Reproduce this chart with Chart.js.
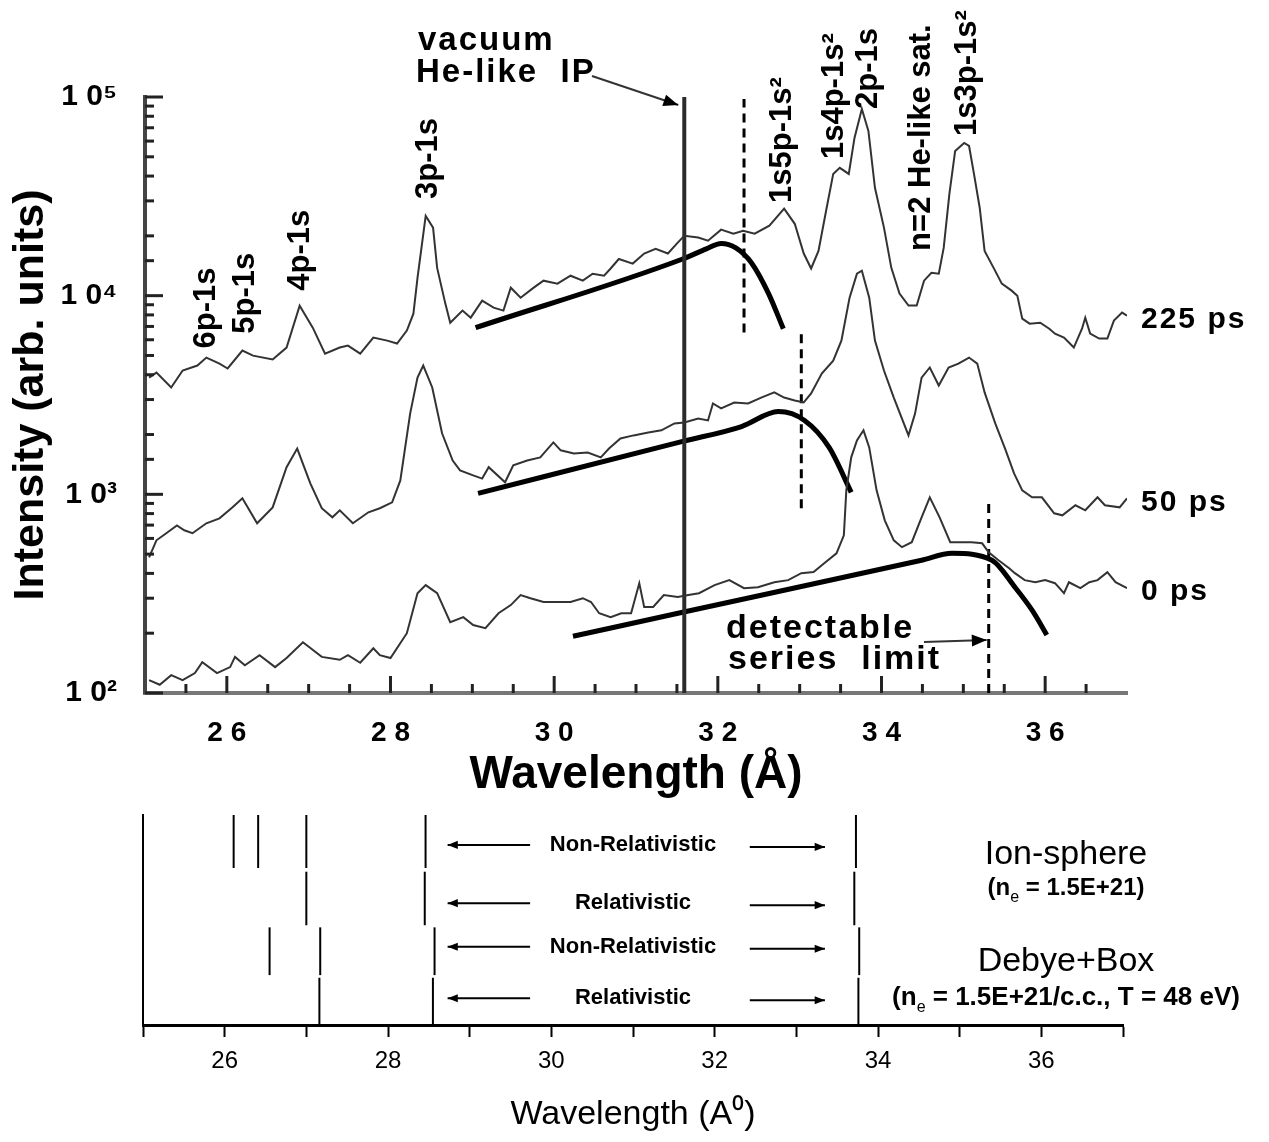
<!DOCTYPE html>
<html>
<head>
<meta charset="utf-8">
<script src="https://cdn.jsdelivr.net/npm/chart.js@4.4.0/dist/chart.umd.min.js"></script>
<style>
  html, body { margin: 0; padding: 0; background: #fff; }
  #wrap { position: relative; width: 1269px; height: 1142px; }
  #top { position: absolute; left: 0; top: 0; }
  #bot { position: absolute; left: 0; top: 800px; }
</style>
</head>
<body>
<div id="wrap">
  <canvas id="top" width="1269" height="800"></canvas>
  <canvas id="bot" width="1269" height="342"></canvas>
</div>
<script>
// ─── DATA: measured spectra (wavelength in Å, intensity arb. units) ───
const wl225 = [25.05,25.14,25.32,25.46,25.64,25.75,25.91,26.01,26.19,26.32,26.56,26.73,26.89,27.05,27.20,27.38,27.48,27.63,27.79,27.96,28.08,28.20,28.28,28.33,28.43,28.52,28.57,28.67,28.73,28.88,28.98,29.12,29.26,29.38,29.47,29.59,29.75,29.87,30.04,30.20,30.35,30.47,30.61,30.69,30.79,30.96,31.10,31.24,31.39,31.51,31.59,31.76,31.88,32.04,32.19,32.31,32.45,32.63,32.81,32.94,33.05,33.14,33.23,33.33,33.41,33.49,33.60,33.67,33.76,33.84,33.92,34.03,34.12,34.22,34.33,34.43,34.52,34.61,34.70,34.76,34.83,34.90,35.01,35.07,35.13,35.20,35.26,35.37,35.47,35.59,35.66,35.72,35.81,35.94,36.05,36.12,36.23,36.35,36.45,36.49,36.55,36.66,36.76,36.84,36.94,37.0];
const int225 = [3870,4100,3450,4200,4450,4880,4550,4300,5290,4990,4770,5480,8910,6900,5110,5480,5610,5110,6150,5940,5740,6670,8120,12300,25200,22000,13800,9120,7310,8410,7750,9440,8710,8410,10970,9770,10970,11900,11500,12600,11900,12900,12600,13700,15300,14500,16300,17200,16300,18500,20000,19600,18900,21500,20500,21200,20500,22500,27400,23000,16300,13700,16800,27700,41000,44000,41000,62200,87100,67500,34900,22000,13800,10240,8910,8910,11900,13050,12900,17400,32600,53500,58700,56700,41000,27700,16800,13800,11500,10600,10000,7660,7230,7310,6820,6440,6150,5480,6820,7750,6440,6080,6080,7490,8220,7930];

const wl50 = [25.05,25.14,25.26,25.39,25.48,25.58,25.75,25.91,26.07,26.19,26.37,26.56,26.73,26.86,27.02,27.16,27.29,27.38,27.54,27.73,27.87,28.02,28.12,28.24,28.33,28.40,28.51,28.63,28.76,28.85,29.01,29.12,29.20,29.40,29.50,29.67,29.83,29.99,30.08,30.24,30.41,30.57,30.67,30.81,30.97,31.15,31.31,31.47,31.59,31.76,31.88,31.94,32.04,32.20,32.37,32.53,32.69,32.81,32.94,33.05,33.14,33.27,33.41,33.51,33.61,33.70,33.76,33.85,33.92,34.03,34.15,34.33,34.41,34.49,34.59,34.70,34.82,34.94,35.07,35.17,35.26,35.39,35.51,35.62,35.72,35.84,35.96,36.11,36.21,36.37,36.49,36.64,36.73,36.91,37.0];
const int50 = [482,587,637,698,659,637,715,757,860,955,715,860,1370,1700,1136,851,766,831,715,812,851,912,1175,2550,3870,4450,3450,2030,1480,1320,1245,1200,1370,1150,1400,1480,1535,1825,1665,1607,1625,1535,1700,1910,1980,2050,2100,2275,2300,2410,2355,2865,2705,2900,2865,3070,3260,3070,2970,2900,3220,4055,4710,5940,9770,12900,13350,9770,5940,4200,3070,1980,2550,3870,4350,3530,4350,4550,4880,4550,3260,2275,1700,1275,1047,966,966,803,784,881,831,966,881,860,955];

const wl0 = [25.05,25.18,25.32,25.46,25.61,25.70,25.88,26.04,26.10,26.22,26.40,26.59,26.73,26.93,27.16,27.38,27.48,27.63,27.79,27.87,28.00,28.20,28.33,28.43,28.57,28.73,28.89,29.01,29.16,29.32,29.47,29.59,29.71,29.87,30.04,30.20,30.35,30.45,30.55,30.69,30.82,30.94,31.04,31.10,31.21,31.34,31.51,31.64,31.77,31.96,32.14,32.32,32.49,32.69,32.86,33.02,33.17,33.30,33.45,33.54,33.57,33.63,33.70,33.78,33.85,33.94,34.04,34.15,34.25,34.37,34.49,34.59,34.71,34.84,34.98,35.10,35.23,35.31,35.43,35.56,35.63,35.75,35.88,36.00,36.12,36.23,36.29,36.43,36.54,36.64,36.76,36.86,37.0];
const int0 = [116,110,123,116,126,143,126,135,152,138,155,135,150,180,152,147,155,142,168,155,150,200,318,349,318,227,241,220,212,252,277,311,300,287,287,287,300,287,252,241,252,252,357,271,271,311,304,311,318,349,370,337,341,361,370,401,406,450,505,622,1047,1535,1867,2100,1722,1047,740,587,542,574,766,966,766,574,574,574,567,511,466,425,401,370,361,370,357,318,361,337,361,370,406,361,337];

// continuum fits (thick black curves)
const fitWl225 = [29.04,31.57,31.86,32.04,32.22,32.41,32.62,32.80];
const fitInt225 = [6900,15300,17200,18300,17400,14650,10240,6820];
const fitWl50 = [29.07,31.57,32.29,32.74,33.06,33.36,33.63];
const fitInt50 = [1012,1846,2195,2610,2355,1722,1023];
const fitWl0 = [30.23,31.57,34.49,34.86,35.35,35.63,35.84,36.02];
const fitInt0 = [193,255,466,505,466,341,261,196];

// vacuum He-like IP and detectable series limits
const ipWl = 31.59;
const ipSpan = [100, 100000];
const limitWl = [32.32, 33.02, 35.31];
const limitLow = [6520, 851, 100];
const limitHigh = [97700, 6820, 912];

// line identifications
const peakNames = ['6p-1s','5p-1s','4p-1s','3p-1s','1s5p-1s²','1s4p-1s²','2p-1s','n=2 He-like sat.','1s3p-1s²'];
const peakWl = [25.75,26.23,26.90,28.46,32.79,33.42,33.84,34.49,35.05];
const peakBase = [5420,6440,10600,30700,29300,48700,87100,16800,63700];
const specNames = ['225 ps','50 ps','0 ps'];

// lower panel: calculated line positions (Å)
const ionNonRel = [26.11, 26.41, 27.0, 28.46, 33.73];
const ionRel = [27.0, 28.45, 33.71];
const debyeNonRel = [26.55, 27.17, 28.57, 33.77];
const debyeRel = [27.16, 28.55, 33.76];
const rowNames = ['Non-Relativistic','Relativistic','Non-Relativistic','Relativistic'];
const rowTop = [4.0, 2.92, 1.86, 0.90];
const rowBottom = [2.99, 1.90, 0.95, 0];
const rowText = [3.43, 2.32, 1.49, 0.51];

const FONT = '"Liberation Sans", Arial, Helvetica, sans-serif';
const SUP = { 2: '²', 3: '³', 4: '⁴', 5: '⁵' };

// ─── HELPERS ─────────────────────────────────────────
const pts = (xs, ys) => xs.map((x, i) => ({ x, y: ys[i] }));

function spectrum(xs, ys) {
  return { data: pts(xs, ys), borderColor: '#333', borderWidth: 2, pointRadius: 0, tension: 0 };
}
function fitCurve(xs, ys) {
  return { data: pts(xs, ys), borderColor: '#000', borderWidth: 5, pointRadius: 0, cubicInterpolationMode: 'monotone' };
}
function vline(x, lo, hi, extra) {
  return Object.assign({ data: [{ x, y: lo }, { x, y: hi }], borderColor: '#000', borderWidth: 3, pointRadius: 0 }, extra);
}

function arrow(ctx, x1, y1, x2, y2, head) {
  ctx.beginPath(); ctx.moveTo(x1, y1); ctx.lineTo(x2, y2); ctx.stroke();
  const a = Math.atan2(y2 - y1, x2 - x1);
  ctx.beginPath();
  ctx.moveTo(x2, y2);
  ctx.lineTo(x2 - head * Math.cos(a - 0.38), y2 - head * Math.sin(a - 0.38));
  ctx.lineTo(x2 - head * Math.cos(a + 0.38), y2 - head * Math.sin(a + 0.38));
  ctx.closePath(); ctx.fill();
}

function vText(ctx, text, x, yBottom) {
  ctx.save();
  ctx.translate(x, yBottom);
  ctx.rotate(-Math.PI / 2);
  ctx.textAlign = 'left';
  ctx.textBaseline = 'middle';
  ctx.fillText(text, 0, 0);
  ctx.restore();
}

// text with a subscript "e" after "n"
function subText(ctx, parts, cx, y, font, subFont) {
  let w = 0;
  parts.forEach(([t, sub]) => { ctx.font = sub ? subFont : font; w += ctx.measureText(t).width; });
  let x = cx - w / 2;
  ctx.textAlign = 'left';
  parts.forEach(([t, sub]) => {
    ctx.font = sub ? subFont : font;
    ctx.fillText(t, x, sub ? y + 10 : y);
    x += ctx.measureText(t).width;
  });
}

// ─── PLUGINS ─────────────────────────────────────────
const inwardTicks = {
  id: 'inwardTicks',
  afterDatasetsDraw(chart) {
    const { ctx, chartArea: a, scales: { x, y } } = chart;
    ctx.save();
    ctx.strokeStyle = '#222';
    ctx.lineWidth = 3;
    x.ticks.forEach(t => {
      if (t.value <= 25 || t.value >= 37) return;
      const px = x.getPixelForValue(t.value);
      const len = (Number.isInteger(t.value) && t.value % 2 === 0) ? 17 : 9;
      ctx.beginPath(); ctx.moveTo(px, a.bottom); ctx.lineTo(px, a.bottom - len); ctx.stroke();
    });
    y.ticks.forEach(t => {
      const e = Math.log10(t.value);
      const py = y.getPixelForValue(t.value);
      const len = Math.abs(e - Math.round(e)) < 1e-6 ? 18 : 9;
      ctx.beginPath(); ctx.moveTo(a.left, py); ctx.lineTo(a.left + len, py); ctx.stroke();
    });
    ctx.restore();
  }
};

const topNotes = {
  id: 'topNotes',
  afterDraw(chart) {
    const { ctx, chartArea: a, scales: { x, y } } = chart;
    ctx.save();
    ctx.fillStyle = '#000';
    ctx.strokeStyle = '#333';
    ctx.font = `bold 31px ${FONT}`;
    peakNames.forEach((t, i) => vText(ctx, t, x.getPixelForValue(peakWl[i]), y.getPixelForValue(peakBase[i])));

    if ('letterSpacing' in ctx) ctx.letterSpacing = '2px';
    ctx.textAlign = 'left';
    ctx.textBaseline = 'middle';
    ctx.font = `bold 30px ${FONT}`;
    const lasts = [int225[int225.length - 1], int50[int50.length - 1], int0[int0.length - 1]];
    specNames.forEach((t, i) => ctx.fillText(t, a.right + 14, y.getPixelForValue(lasts[i]) + 4));

    ctx.textBaseline = 'alphabetic';
    ctx.font = `bold 33px ${FONT}`;
    ctx.fillText('vacuum', 418, 50);
    ctx.fillText('He-like  IP', 416, 82);
    ctx.lineWidth = 2;
    ctx.fillStyle = '#000';
    arrow(ctx, 592, 76, x.getPixelForValue(ipWl) - 6, a.top + 8, 16);

    ctx.font = `bold 34px ${FONT}`;
    ctx.fillText('detectable', 726, 638);
    ctx.fillText('series  limit', 728, 669);
    arrow(ctx, 924, 642, x.getPixelForValue(limitWl[2]) - 2, 640, 16);
    ctx.restore();
  }
};

const bottomNotes = {
  id: 'bottomNotes',
  afterDraw(chart) {
    const { ctx, scales: { x, y } } = chart;
    ctx.save();
    ctx.fillStyle = '#000';
    ctx.strokeStyle = '#000';
    ctx.lineWidth = 2;
    ctx.textAlign = 'center';
    ctx.textBaseline = 'middle';
    rowNames.forEach((name, i) => {
      const py = y.getPixelForValue(rowText[i]);
      ctx.font = `bold 22px ${FONT}`;
      ctx.textAlign = 'center';
      ctx.fillText(name, x.getPixelForValue(31.0), py);
      arrow(ctx, x.getPixelForValue(29.74), py, x.getPixelForValue(28.73), py, 11);
      arrow(ctx, x.getPixelForValue(32.43), py + 2, x.getPixelForValue(33.35), py + 2, 11);
    });
    const mid = 1066;
    ctx.textAlign = 'center';
    ctx.font = `34px ${FONT}`;
    ctx.fillText('Ion-sphere', mid, 55);
    subText(ctx, [['(n', 0], ['e', 1], [' = 1.5E+21)', 0]], mid, 88, `bold 24px ${FONT}`, `16px ${FONT}`);
    ctx.textAlign = 'center';
    ctx.font = `34px ${FONT}`;
    ctx.fillText('Debye+Box', mid, 162);
    subText(ctx, [['(n', 0], ['e', 1], [' = 1.5E+21/c.c., T = 48 eV)', 0]], mid, 198, `bold 26px ${FONT}`, `16px ${FONT}`);
    ctx.restore();
  }
};

// ─── TOP CHART: spectra ──────────────────────────────
const topChart = new Chart(document.getElementById('top'), {
  type: 'line',
  data: {
    datasets: [
      spectrum(wl225, int225),
      spectrum(wl50, int50),
      spectrum(wl0, int0),
      vline(ipWl, ipSpan[0], ipSpan[1], { borderColor: '#2b2b2b', borderWidth: 4 }),
      ...limitWl.map((w, i) => vline(w, limitLow[i], limitHigh[i], { borderDash: [9, 6] })),
      fitCurve(fitWl225, fitInt225),
      fitCurve(fitWl50, fitInt50),
      fitCurve(fitWl0, fitInt0)
    ]
  },
  options: {
    responsive: false,
    animation: false,
    devicePixelRatio: 1,
    layout: { padding: { top: 97, right: 142, left: 0, bottom: 0 } },
    plugins: { legend: { display: false }, tooltip: { enabled: false } },
    scales: {
      x: {
        type: 'linear', min: 25, max: 37,
        afterFit: s => { s.height = 107; },
        grid: { display: false },
        border: { display: true, color: '#777', width: 4 },
        ticks: {
          stepSize: 0.5, autoSkip: false, maxRotation: 0, padding: 15, color: '#000',
          font: { family: FONT, size: 28, weight: 'bold' },
          callback: v => (Number.isInteger(v) && v % 2 === 0 && v > 25 && v < 37) ? String(v).split('').join(' ') : ''
        },
        title: {
          display: true, text: 'Wavelength (Å)', color: '#000',
          font: { family: FONT, size: 46, weight: 'bold', lineHeight: 1 },
          padding: { top: 0, bottom: 2 }
        }
      },
      y: {
        type: 'logarithmic', min: 100, max: 100000,
        afterFit: s => { s.width = 145; },
        grid: { display: false },
        border: { display: true, color: '#444', width: 4 },
        ticks: {
          autoSkip: false, padding: 20, color: '#000',
          font: { family: FONT, size: 30, weight: 'bold' },
          callback: v => {
            const e = Math.log10(v);
            return Math.abs(e - Math.round(e)) < 1e-6 ? '1 0' + SUP[Math.round(e)] : '';
          }
        },
        title: {
          display: true, text: 'Intensity (arb. units)', color: '#000',
          font: { family: FONT, size: 43, weight: 'bold', lineHeight: 1 },
          padding: { top: 10, bottom: 0 }
        }
      }
    }
  },
  plugins: [inwardTicks, topNotes]
});

// ─── BOTTOM CHART: calculated line positions ─────────
const bottomSets = [];
[ionNonRel, ionRel, debyeNonRel, debyeRel].forEach((row, i) => {
  row.forEach(w => bottomSets.push(vline(w, rowBottom[i], rowTop[i], { borderWidth: 2, clip: false })));
});

const bottomChart = new Chart(document.getElementById('bot'), {
  type: 'line',
  data: { datasets: bottomSets },
  options: {
    responsive: false,
    animation: false,
    devicePixelRatio: 1,
    layout: { padding: { top: 15, right: 146, left: 0, bottom: 0 } },
    plugins: { legend: { display: false }, tooltip: { enabled: false } },
    scales: {
      x: {
        type: 'linear', min: 25, max: 37,
        afterFit: s => { s.height = 117; },
        grid: { display: true, drawOnChartArea: false, drawTicks: true, tickLength: 12, tickWidth: 2, tickColor: '#000' },
        border: { display: true, color: '#000', width: 3 },
        ticks: {
          stepSize: 1, autoSkip: false, maxRotation: 0, padding: 10, color: '#000',
          font: { family: FONT, size: 24 },
          callback: v => (v % 2 === 0 && v > 25 && v < 37) ? String(v) : ''
        },
        title: {
          display: true, text: 'Wavelength (A⁰)', color: '#000',
          font: { family: FONT, size: 34, lineHeight: 1 },
          padding: { top: 0, bottom: 10 }
        }
      },
      y: {
        min: 0, max: 4,
        afterFit: s => { s.width = 143; },
        grid: { display: false },
        border: { display: true, color: '#000', width: 2 },
        ticks: { display: false }
      }
    }
  },
  plugins: [bottomNotes]
});
</script>
</body>
</html>
